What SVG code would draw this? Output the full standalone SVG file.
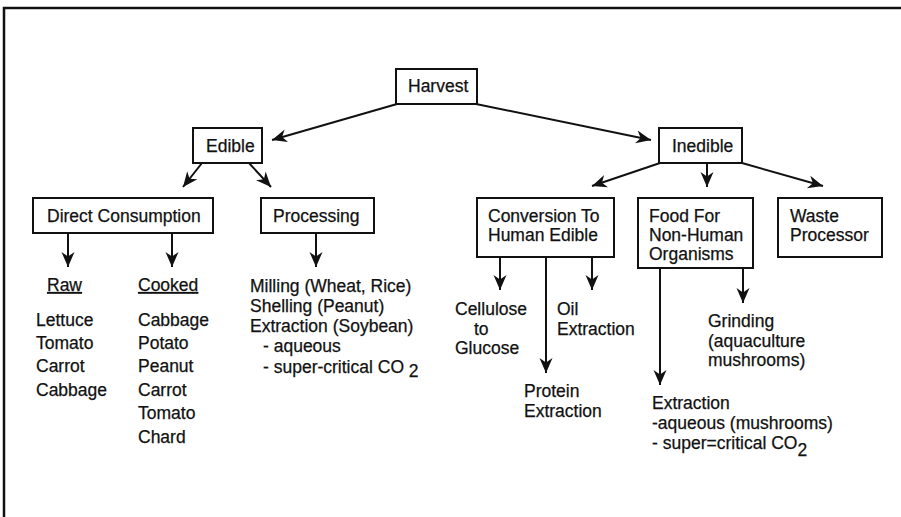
<svg xmlns="http://www.w3.org/2000/svg" width="901" height="517" viewBox="0 0 901 517">
<style>
text{font-family:"Liberation Sans",Arial,sans-serif;font-size:17.5px;fill:#111;stroke:#111;stroke-width:0.25}
.box{fill:#fff;stroke:#111;stroke-width:2}
.c{fill:none;stroke:#111;stroke-width:2}
</style>
<defs>
<marker id="ah" markerUnits="userSpaceOnUse" markerWidth="18" markerHeight="16" refX="15" refY="7" orient="auto">
<path d="M0,0.5 L15,7 L0,13.5 L4.5,7 Z" fill="#111"/>
</marker>
</defs>
<rect width="901" height="517" fill="#fff"/>
<path d="M4,517 L4,8 L901,8" fill="none" stroke="#111" stroke-width="2.5"/>
<g id="connectors">
<line class="c" x1="397" y1="104" x2="272" y2="140" marker-end="url(#ah)"/>
<line class="c" x1="476" y1="104" x2="651" y2="140" marker-end="url(#ah)"/>
<line class="c" x1="202" y1="163" x2="183" y2="187" marker-end="url(#ah)"/>
<line class="c" x1="249" y1="163" x2="271" y2="187" marker-end="url(#ah)"/>
<line class="c" x1="660" y1="163" x2="592" y2="186" marker-end="url(#ah)"/>
<line class="c" x1="707" y1="163" x2="707" y2="187" marker-end="url(#ah)"/>
<line class="c" x1="742" y1="163" x2="823" y2="186" marker-end="url(#ah)"/>
<line class="c" x1="68" y1="233" x2="68" y2="267" marker-end="url(#ah)"/>
<line class="c" x1="172" y1="233" x2="172" y2="267" marker-end="url(#ah)"/>
<line class="c" x1="316" y1="233" x2="316" y2="267" marker-end="url(#ah)"/>
<line class="c" x1="500" y1="257" x2="500" y2="290" marker-end="url(#ah)"/>
<line class="c" x1="546" y1="257" x2="546" y2="373" marker-end="url(#ah)"/>
<line class="c" x1="592" y1="257" x2="592" y2="290" marker-end="url(#ah)"/>
<line class="c" x1="660" y1="268" x2="660" y2="385" marker-end="url(#ah)"/>
<line class="c" x1="743" y1="268" x2="743" y2="303" marker-end="url(#ah)"/>
</g>
<g id="harvest"><rect class="box" x="396" y="69" width="81" height="35"/><text x="408" y="92">Harvest</text></g>
<g id="edible"><rect class="box" x="193" y="128" width="69" height="35"/><text x="206" y="152">Edible</text></g>
<g id="inedible"><rect class="box" x="659" y="128" width="83" height="35"/><text x="672" y="152">Inedible</text></g>
<g id="direct"><rect class="box" x="33" y="198" width="180" height="35"/><text x="47" y="222">Direct Consumption</text></g>
<g id="processing"><rect class="box" x="261" y="198" width="113" height="35"/><text x="273" y="222">Processing</text></g>
<g id="conversion"><rect class="box" x="477" y="198" width="137" height="59"/><text x="488" y="222">Conversion To</text><text x="488" y="241">Human Edible</text></g>
<g id="food"><rect class="box" x="638" y="198" width="115" height="70"/><text x="649" y="222">Food For</text><text x="649" y="241">Non-Human</text><text x="649" y="260">Organisms</text></g>
<g id="waste"><rect class="box" x="778" y="198" width="104" height="59"/><text x="790" y="222">Waste</text><text x="790" y="241">Processor</text></g>
<g id="raw"><text x="47" y="291" text-decoration="underline">Raw</text>
<text x="36" y="326">Lettuce</text><text x="36" y="349">Tomato</text><text x="36" y="372">Carrot</text><text x="36" y="396">Cabbage</text></g>
<g id="cooked"><text x="138" y="291" text-decoration="underline">Cooked</text>
<text x="138" y="326">Cabbage</text><text x="138" y="349">Potato</text><text x="138" y="372">Peanut</text><text x="138" y="396">Carrot</text><text x="138" y="419">Tomato</text><text x="138" y="443">Chard</text></g>
<g id="processing-list"><text x="250" y="292">Milling (Wheat, Rice)</text><text x="250" y="312">Shelling (Peanut)</text><text x="250" y="332">Extraction (Soybean)</text><text x="263" y="352">- aqueous</text><text x="263" y="373">- super-critical CO<tspan dy="4"> 2</tspan></text></g>
<g id="cellulose"><text x="455" y="315">Cellulose</text><text x="474" y="335">to</text><text x="455" y="354">Glucose</text></g>
<g id="oil"><text x="557" y="315">Oil</text><text x="557" y="335">Extraction</text></g>
<g id="protein"><text x="524" y="397">Protein</text><text x="524" y="417">Extraction</text></g>
<g id="grinding"><text x="708" y="327">Grinding</text><text x="708" y="347">(aquaculture</text><text x="708" y="366">mushrooms)</text></g>
<g id="extraction"><text x="652" y="409">Extraction</text><text x="652" y="429">-aqueous (mushrooms)</text><text x="652" y="449">- super=critical CO<tspan dy="7">2</tspan></text></g>
</svg>
